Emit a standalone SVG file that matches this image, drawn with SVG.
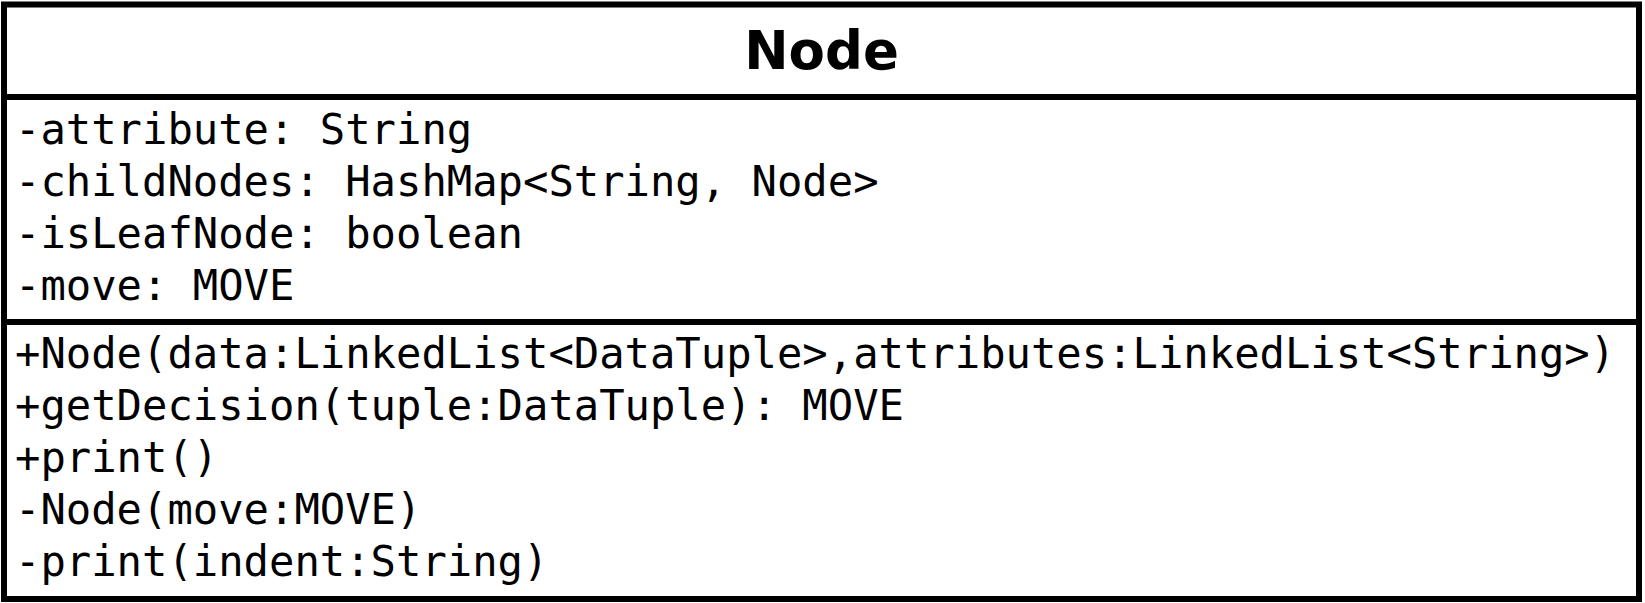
<svg xmlns="http://www.w3.org/2000/svg" width="1645" height="603" viewBox="0 0 1645 603">
<style>
.box{fill:#fff;stroke:#000;stroke-width:6}
.div{stroke:#000;stroke-width:6}
.title{font-family:"DejaVu Sans",sans-serif;font-weight:bold;font-size:53px;text-anchor:middle;fill:#000}
.m{font-family:"DejaVu Sans Mono",monospace;font-size:42.2px;fill:#000}
</style>
<rect width="1645" height="603" fill="#fff"/>
<g id="node-Node">
<rect class="box" x="4" y="4.5" width="1635" height="594.5"/>
<line class="div" x1="4" y1="97" x2="1639" y2="97"/>
<line class="div" x1="4" y1="322" x2="1639" y2="322"/>
<text class="title" x="821.5" y="69">Node</text>
<text class="m" x="15" y="143.5">-attribute: String</text>
<text class="m" x="15" y="195.5">-childNodes: HashMap&lt;String, Node&gt;</text>
<text class="m" x="15" y="247.5">-isLeafNode: boolean</text>
<text class="m" x="15" y="299.5">-move: MOVE</text>
<text class="m" x="15" y="368">+Node(data:LinkedList&lt;DataTuple&gt;,attributes:LinkedList&lt;String&gt;)</text>
<text class="m" x="15" y="420">+getDecision(tuple:DataTuple): MOVE</text>
<text class="m" x="15" y="472">+print()</text>
<text class="m" x="15" y="524">-Node(move:MOVE)</text>
<text class="m" x="15" y="576">-print(indent:String)</text>
</g>
<g id="connectors"/>
</svg>
